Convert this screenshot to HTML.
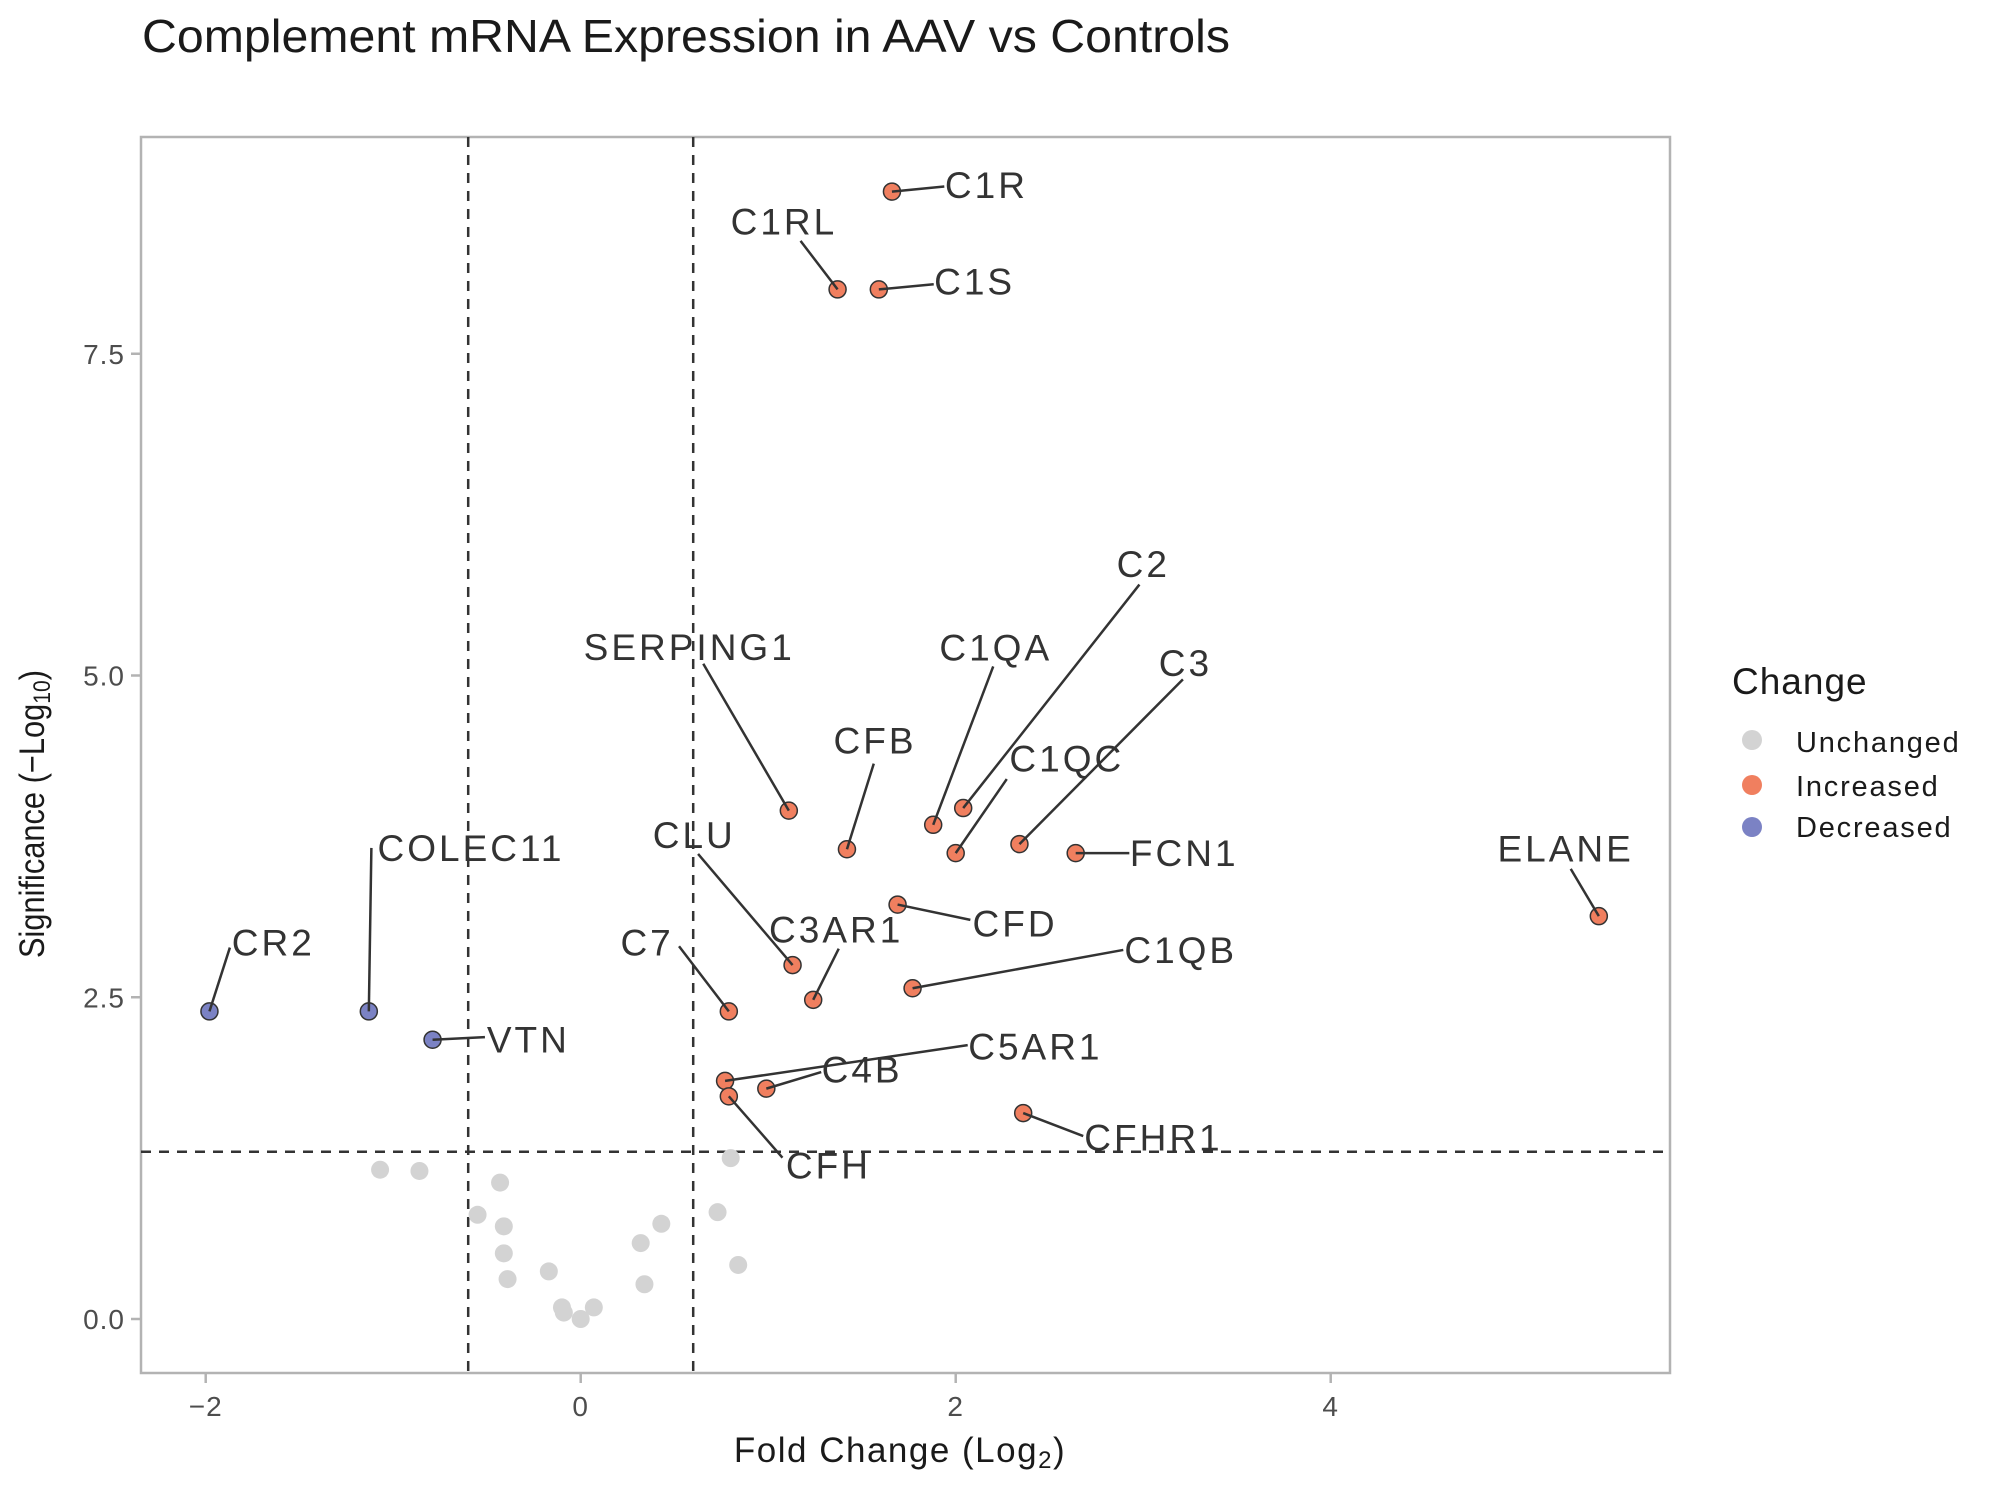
<!DOCTYPE html>
<html><head><meta charset="utf-8">
<style>
html,body{margin:0;padding:0;background:#fff;}
svg{display:block;font-family:"Liberation Sans",sans-serif;}
</style></head>
<body>
<svg id="chart" width="2000" height="1500" viewBox="0 0 2000 1500">
  <text x="142" y="52" font-size="46" fill="#1a1a1a" textLength="1088" lengthAdjust="spacingAndGlyphs">Complement mRNA Expression in AAV vs Controls</text>
  <rect x="141" y="137" width="1529" height="1236" fill="#fff" stroke="#b3b3b3" stroke-width="2.5"/>
  <g id="axes"></g>
  <g id="refs"></g>
  <g id="points"></g>
  <g id="labels"></g>
  <text transform="translate(44,814) rotate(-90)" text-anchor="middle" font-size="35" fill="#1a1a1a" textLength="288" lengthAdjust="spacingAndGlyphs">Significance (−Log<tspan font-size="24" dy="6">10</tspan><tspan dy="-6">)</tspan></text>
  <text x="900" y="1462" text-anchor="middle" font-size="35" fill="#1a1a1a" letter-spacing="1.5">Fold Change (Log<tspan font-size="24" dy="6">2</tspan><tspan dy="-6">)</tspan></text>
  <g>
    <text x="1732" y="694" font-size="37" fill="#1a1a1a" letter-spacing="1">Change</text>
    <circle cx="1752" cy="740" r="10" fill="#d3d3d3"/>
    <text x="1796" y="752" font-size="29" fill="#1a1a1a" letter-spacing="1.8">Unchanged</text>
    <circle cx="1752" cy="785" r="10" fill="#f07f5f"/>
    <text x="1796" y="796" font-size="29" fill="#1a1a1a" letter-spacing="1.8">Increased</text>
    <circle cx="1752" cy="827" r="10" fill="#7b82c4"/>
    <text x="1796" y="837" font-size="29" fill="#1a1a1a" letter-spacing="1.8">Decreased</text>
  </g>
</svg>
<script>
const xTicks = [-2, 0, 2, 4];
const yTicks = [0, 2.5, 5, 7.5];
const yTickLabels = ["0.0", "2.5", "5.0", "7.5"];
const genes = ["C1R","C1RL","C1S","SERPING1","CFB","C1QA","C2","C1QC","C3","FCN1","ELANE","CFD","C1QB","CLU","C3AR1","C7","C5AR1","C4B","CFH","CFHR1","CR2","COLEC11","VTN"];
const geneFC = [1.66,1.37,1.59,1.11,1.42,1.88,2.04,2.00,2.34,2.64,5.43,1.69,1.77,1.13,1.24,0.79,0.77,0.99,0.79,2.36,-1.98,-1.13,-0.79];
const geneSig = [8.76,8.00,8.00,3.95,3.65,3.84,3.97,3.62,3.69,3.62,3.13,3.22,2.57,2.75,2.48,2.39,1.85,1.79,1.73,1.60,2.39,2.39,2.17];
const unchangedFC = [-1.07,-0.86,-0.43,-0.55,-0.41,-0.41,-0.39,-0.17,-0.10,-0.09,0,0.07,0.32,0.34,0.43,0.73,0.80,0.84];
const unchangedSig = [1.16,1.15,1.06,0.81,0.72,0.51,0.31,0.37,0.09,0.05,0,0.09,0.59,0.27,0.74,0.83,1.25,0.42];
const fcCutoff = 0.6;
const sigCutoff = 1.3;
// label layout offsets relative to point: text center dx,dy ; segment end sx,sy
const labelOffsets = [[74,-5,41,-4],[-42,-53,-29,-38],[75,-6,43,-4],[-78,-128,-67,-115],[22,-85,21,-67],[49,-139,47,-124],[141,-191,138,-175],[87,-74,40,-58],[130,-142,128,-129],[85,0,42,0],[-26,-53,-22,-37],[92,15,57,12],[210,-30,165,-30],[-77,-102,-74,-87],[18,-55,20,-40],[-64,-54,-39,-51],[243,-27,190,-28],[75,-15,43,-13],[78,54,42,48],[102,19,47,18],[50,-54,16,-50],[80,-128,2,-128],[75,0,41,-2]];

const NS = "http://www.w3.org/2000/svg";
const X0 = 580.7, XS = 187.5, Y0 = 1319, YS = 128.7, S = 1.277;
const PL = 141, PR = 1670, PT = 137, PB = 1373;
function xScale(v){ return X0 + v * XS; }
function yScale(v){ return Y0 - v * YS; }
function mk(tag, attrs, parent){
  const e = document.createElementNS(NS, tag);
  for (const k in attrs) e.setAttribute(k, attrs[k]);
  parent.appendChild(e);
  return e;
}
const axes = document.getElementById('axes');
xTicks.forEach(t => {
  const x = xScale(t);
  const l = mk('line', {x1:x, x2:x, y1:PB, y2:PB+10, stroke:'#b3b3b3', 'stroke-width':2.5}, axes);
  
  
  const tx = mk('text', {x:x, y:PB+43, 'text-anchor':'middle', 'font-size':28, fill:'#4d4d4d', 'letter-spacing':'1'}, axes);
  tx.textContent = t < 0 ? '−' + Math.abs(t) : String(t);
  
  
});
yTicks.forEach((t, i) => {
  const y = yScale(t);
  const l = mk('line', {x1:PL-10, x2:PL, y1:y, y2:y, stroke:'#b3b3b3', 'stroke-width':2.5}, axes);
  
  
  const tx = mk('text', {x:PL-16, y:y+10, 'text-anchor':'end', 'font-size':28, fill:'#4d4d4d', 'letter-spacing':'1'}, axes);
  tx.textContent = yTickLabels[i];
  
  
});
const refs = document.getElementById('refs');
[-fcCutoff, fcCutoff].forEach(c => {
  const l = mk('line', {x1:xScale(c), x2:xScale(c), y1:PT, y2:PB, stroke:'#333', 'stroke-width':2.5, 'stroke-dasharray':'10,8'}, refs);
  
  
});
const hl = mk('line', {x1:PL, x2:PR, y1:yScale(sigCutoff), y2:yScale(sigCutoff), stroke:'#333', 'stroke-width':2.5, 'stroke-dasharray':'10,8'}, refs);



const pts = document.getElementById('points');
unchangedFC.forEach((v, i) => {
  const c = mk('circle', {cx:xScale(v), cy:yScale(unchangedSig[i]), r:9, fill:'#d3d3d3'}, pts);
  
  
});
const lab = document.getElementById('labels');
genes.forEach((g, i) => {
  const px = xScale(geneFC[i]), py = yScale(geneSig[i]);
  const o = labelOffsets[i];
  const ln = mk('line', {x1:px, y1:py, x2:px+o[2]*S, y2:py+o[3]*S, stroke:'#333', 'stroke-width':2.5}, lab);
  
  
});
genes.forEach((g, i) => {
  const px = xScale(geneFC[i]), py = yScale(geneSig[i]);
  const c = mk('circle', {cx:px, cy:py, r:8.5, fill: geneFC[i] > 0 ? '#f07f5f' : '#7b82c4', stroke:'#333', 'stroke-width':1.5}, pts);
  
  
});
genes.forEach((g, i) => {
  const px = xScale(geneFC[i]), py = yScale(geneSig[i]);
  const o = labelOffsets[i];
  const t = mk('text', {x:px+o[0]*S, y:py+o[1]*S+13, 'text-anchor':'middle', 'font-size':37, fill:'#333', 'letter-spacing':'3'}, lab);
  t.textContent = g;
  
  
});
</script>
</body></html>
